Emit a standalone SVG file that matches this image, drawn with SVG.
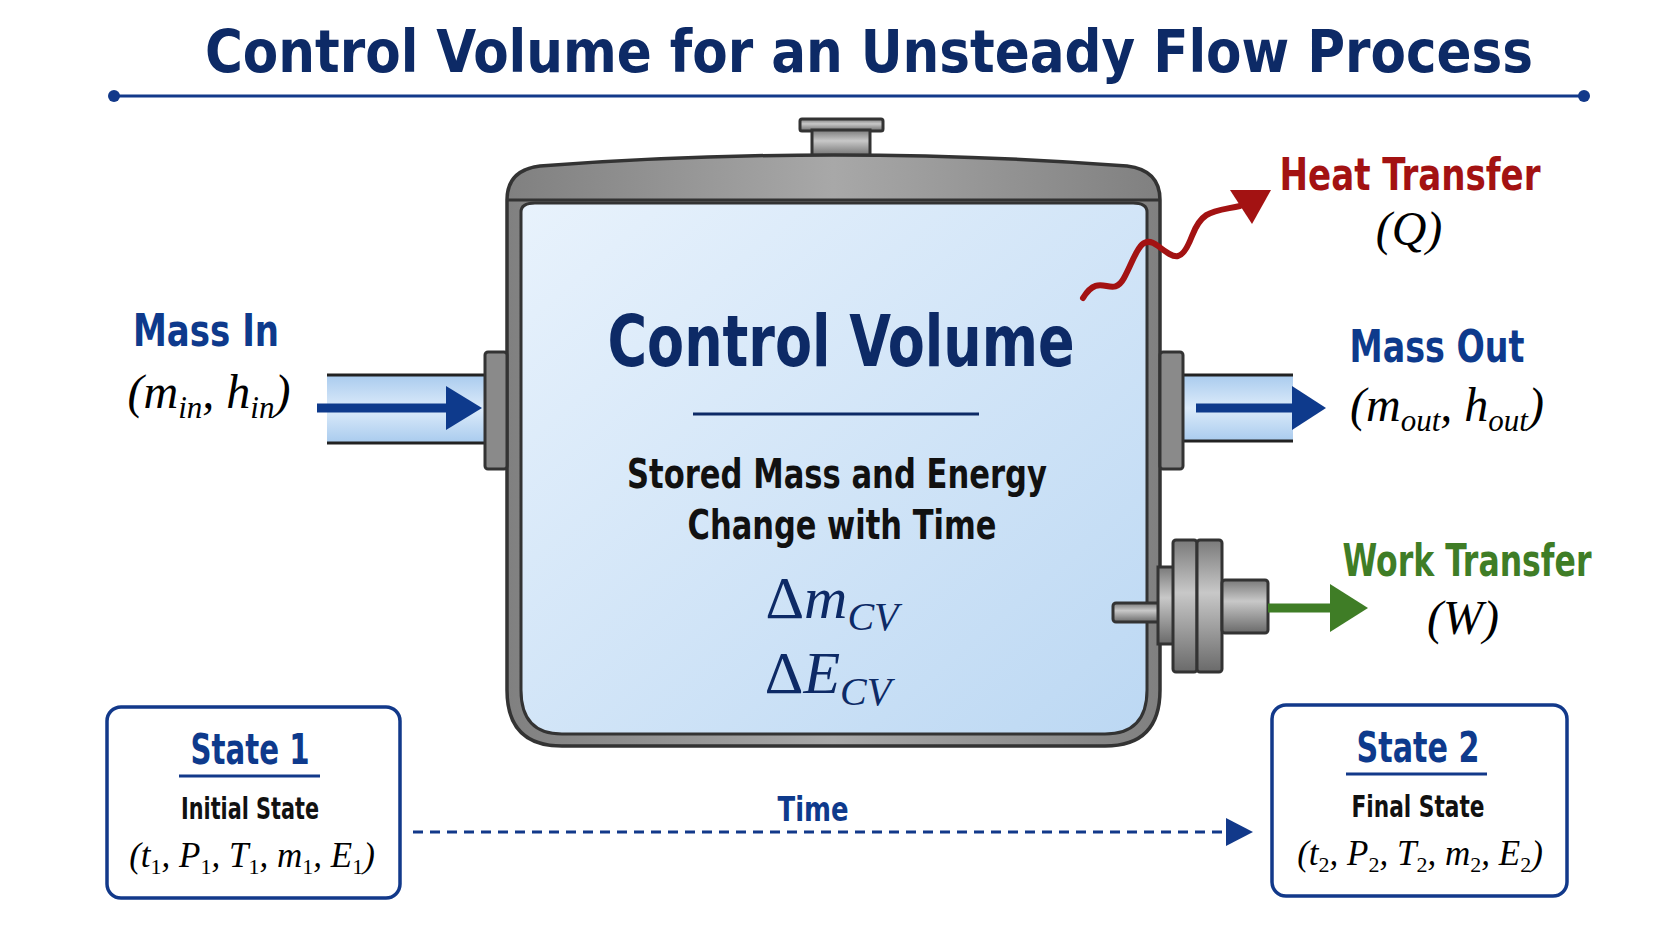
<svg xmlns="http://www.w3.org/2000/svg" width="1672" height="941" viewBox="0 0 1672 941">
<style>
.sans{font-family:"DejaVu Sans Condensed","Roboto","Liberation Sans",sans-serif;font-weight:bold;text-anchor:middle}
.math{font-family:"Liberation Serif","DejaVu Serif",serif;font-style:italic;text-anchor:middle}
.rm{font-style:normal}
.navy{fill:#0d2a66}
.blue{fill:#0e3a8c}
.pipe{fill:url(#pipeG);stroke:none}
.metal{fill:url(#metalG);stroke:#333;stroke-width:3}
.box{fill:#fff;stroke:#12398a;stroke-width:3.5}
</style>
<defs>
<linearGradient id="fluid" x1="0" y1="0" x2="1" y2="1"><stop offset="0" stop-color="#e8f2fc"/><stop offset="1" stop-color="#bcd8f3"/></linearGradient>
<linearGradient id="pipeG" x1="0" y1="0" x2="0" y2="1"><stop offset="0" stop-color="#a9cbee"/><stop offset="0.5" stop-color="#dcebfa"/><stop offset="1" stop-color="#a9cbee"/></linearGradient>
<linearGradient id="metalG" x1="0" y1="0" x2="0" y2="1"><stop offset="0" stop-color="#7a7a7a"/><stop offset="0.4" stop-color="#c8c8c8"/><stop offset="1" stop-color="#6a6a6a"/></linearGradient>
<linearGradient id="shell" x1="0" y1="0" x2="1" y2="0"><stop offset="0" stop-color="#808080"/><stop offset="0.5" stop-color="#a8a8a8"/><stop offset="1" stop-color="#808080"/></linearGradient>
</defs>
<rect width="1672" height="941" fill="#fff"/>

<g id="title">
<text class="sans navy" x="869" y="72" font-size="58" textLength="1328" lengthAdjust="spacingAndGlyphs">Control Volume for an Unsteady Flow Process</text>
<line x1="114" y1="96" x2="1584" y2="96" stroke="#12398a" stroke-width="3"/>
<circle cx="114" cy="96" r="6" fill="#12398a"/><circle cx="1584" cy="96" r="6" fill="#12398a"/>
</g>

<g id="tank">
<rect x="800" y="119" width="83" height="12" rx="2" class="metal"/>
<rect x="812" y="130" width="58" height="27" class="metal"/>
<path d="M507,200 Q507,170 540,166 Q833,144 1127,166 Q1160,170 1160,200 L1160,690 Q1160,746 1105,746 L562,746 Q507,746 507,690 Z" fill="url(#shell)" stroke="#333" stroke-width="3.5"/>
<path d="M521,212 Q521,203 535,203 L1133,203 Q1147,203 1147,212 L1147,690 Q1147,734 1105,734 L562,734 Q521,734 521,690 Z" fill="url(#fluid)" stroke="#333" stroke-width="3"/>
<line x1="507" y1="200" x2="1160" y2="200" stroke="#333" stroke-width="3"/>
</g>

<g id="inlet">
<rect x="327" y="375" width="158" height="68" class="pipe"/>
<line x1="327" y1="375" x2="485" y2="375" stroke="#222" stroke-width="3"/>
<line x1="327" y1="443" x2="485" y2="443" stroke="#222" stroke-width="3"/>
<rect x="485" y="352" width="22" height="117" rx="3" fill="#8a8a8a" stroke="#333" stroke-width="3"/>
<line x1="317" y1="408" x2="450" y2="408" stroke="#0e3a8c" stroke-width="9"/>
<path d="M446,386 L482,408 L446,430 z" fill="#0e3a8c"/>
<text class="sans blue" x="206" y="346" font-size="44" textLength="146" lengthAdjust="spacingAndGlyphs">Mass In</text>
<text class="math" x="209" y="408" font-size="48">(<tspan>m</tspan><tspan font-size="31" dy="10">in</tspan><tspan dy="-10">, h</tspan><tspan font-size="31" dy="10">in</tspan><tspan dy="-10">)</tspan></text>
</g>

<g id="outlet">
<rect x="1183" y="375" width="110" height="66" class="pipe"/>
<line x1="1183" y1="375" x2="1293" y2="375" stroke="#222" stroke-width="3"/>
<line x1="1183" y1="441" x2="1293" y2="441" stroke="#222" stroke-width="3"/>
<rect x="1160" y="352" width="23" height="117" rx="3" fill="#8a8a8a" stroke="#333" stroke-width="3"/>
<line x1="1196" y1="408" x2="1297" y2="408" stroke="#0e3a8c" stroke-width="9"/>
<path d="M1292,386 L1326,408 L1292,430 z" fill="#0e3a8c"/>
<text class="sans blue" x="1437" y="362" font-size="44" textLength="175" lengthAdjust="spacingAndGlyphs">Mass Out</text>
<text class="math" x="1447" y="421" font-size="48">(<tspan>m</tspan><tspan font-size="31" dy="10">out</tspan><tspan dy="-10">, h</tspan><tspan font-size="31" dy="10">out</tspan><tspan dy="-10">)</tspan></text>
</g>

<g id="heat">
<path d="M1083,298 C1100,270 1112,300 1124,278 S1140,232 1158,246 S1182,262 1192,236 S1212,212 1240,206" fill="none" stroke="#a31212" stroke-width="6" stroke-linecap="round"/>
<path d="M1230,190 L1271,190 L1252,224 z" fill="#a31212"/>
<text class="sans" fill="#a31212" x="1410" y="190" font-size="44" textLength="261" lengthAdjust="spacingAndGlyphs">Heat Transfer</text>
<text class="math" x="1409" y="245" font-size="48">(Q)</text>
</g>

<g id="work">
<rect x="1113" y="603" width="60" height="19" rx="3" class="metal"/>
<rect x="1158" y="567" width="16" height="77" class="metal"/>
<rect x="1173" y="540" width="24" height="132" rx="3" class="metal"/>
<rect x="1197" y="540" width="25" height="132" rx="3" class="metal"/>
<rect x="1222" y="580" width="46" height="53" rx="3" class="metal"/>
<line x1="1268" y1="608" x2="1335" y2="608" stroke="#3f7d26" stroke-width="9"/>
<path d="M1330,584 L1368,608 L1330,632 z" fill="#3f7d26"/>
<text class="sans" fill="#3f7d26" x="1467" y="576" font-size="44" textLength="249" lengthAdjust="spacingAndGlyphs">Work Transfer</text>
<text class="math" x="1463" y="634" font-size="48">(W)</text>
</g>

<g id="cv-label">
<text class="sans navy" x="841" y="366" font-size="72" textLength="467" lengthAdjust="spacingAndGlyphs">Control Volume</text>
<line x1="693" y1="414" x2="979" y2="414" stroke="#0d2a66" stroke-width="3"/>
<text class="sans" fill="#111" x="837" y="488" font-size="40" textLength="420" lengthAdjust="spacingAndGlyphs">Stored Mass and Energy</text>
<text class="sans" fill="#111" x="842" y="539" font-size="40" textLength="309" lengthAdjust="spacingAndGlyphs">Change with Time</text>
<text class="math navy" x="832" y="618" font-size="60"><tspan class="rm">Δ</tspan>m<tspan font-size="40" dy="12">CV</tspan></text>
<text class="math navy" x="828" y="693" font-size="60"><tspan class="rm">Δ</tspan>E<tspan font-size="40" dy="12">CV</tspan></text>
</g>

<g id="state1">
<rect x="107" y="707" width="293" height="191" rx="14" class="box"/>
<text class="sans blue" x="250" y="764" font-size="42" textLength="119" lengthAdjust="spacingAndGlyphs">State 1</text>
<line x1="179" y1="776" x2="320" y2="776" stroke="#12398a" stroke-width="3"/>
<text class="sans" fill="#111" x="250" y="819" font-size="30" textLength="138" lengthAdjust="spacingAndGlyphs">Initial State</text>
<text class="math" x="252" y="867" font-size="35">(t<tspan font-size="22" dy="7" class="rm">1</tspan><tspan dy="-7">, P</tspan><tspan font-size="22" dy="7" class="rm">1</tspan><tspan dy="-7">, T</tspan><tspan font-size="22" dy="7" class="rm">1</tspan><tspan dy="-7">, m</tspan><tspan font-size="22" dy="7" class="rm">1</tspan><tspan dy="-7">, E</tspan><tspan font-size="22" dy="7" class="rm">1</tspan><tspan dy="-7">)</tspan></text>
</g>

<g id="state2">
<rect x="1272" y="705" width="295" height="191" rx="14" class="box"/>
<text class="sans blue" x="1418" y="762" font-size="42" textLength="123" lengthAdjust="spacingAndGlyphs">State 2</text>
<line x1="1346" y1="774" x2="1487" y2="774" stroke="#12398a" stroke-width="3"/>
<text class="sans" fill="#111" x="1418" y="817" font-size="30" textLength="133" lengthAdjust="spacingAndGlyphs">Final State</text>
<text class="math" x="1420" y="865" font-size="35">(t<tspan font-size="22" dy="7" class="rm">2</tspan><tspan dy="-7">, P</tspan><tspan font-size="22" dy="7" class="rm">2</tspan><tspan dy="-7">, T</tspan><tspan font-size="22" dy="7" class="rm">2</tspan><tspan dy="-7">, m</tspan><tspan font-size="22" dy="7" class="rm">2</tspan><tspan dy="-7">, E</tspan><tspan font-size="22" dy="7" class="rm">2</tspan><tspan dy="-7">)</tspan></text>
</g>

<g id="connectors">
<line x1="413" y1="832" x2="1228" y2="832" stroke="#12398a" stroke-width="3" stroke-dasharray="10,7"/>
<path d="M1226,818 L1253,832 L1226,846 z" fill="#12398a"/>
<text class="sans blue" x="813" y="821" font-size="34" textLength="71" lengthAdjust="spacingAndGlyphs">Time</text>
</g>
</svg>
